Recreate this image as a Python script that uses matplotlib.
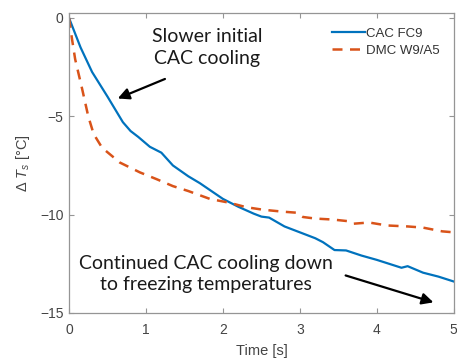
import matplotlib
matplotlib.use('Agg')
import matplotlib.pyplot as plt

# CAC FC9 (solid blue)
t_cac = [0, 0.15, 0.3, 0.5, 0.7, 0.8, 0.9, 1.05, 1.2, 1.35, 1.55, 1.7, 1.85,
         2.0, 2.2, 2.4, 2.5, 2.6, 2.8, 3.0, 3.2, 3.3, 3.45, 3.6, 3.8, 4.0,
         4.2, 4.32, 4.4, 4.6, 4.8, 5.0]
dT_cac = [0, -1.5, -2.75, -4.0, -5.3, -5.75, -6.05, -6.55, -6.85, -7.5, -8.05,
          -8.4, -8.8, -9.2, -9.6, -9.95, -10.1, -10.15, -10.6, -10.9, -11.2,
          -11.4, -11.8, -11.82, -12.08, -12.3, -12.55, -12.7, -12.62, -12.95,
          -13.15, -13.4]

# DMC W9/A5 (dashed orange)
t_dmc = [0, 0.04, 0.08, 0.17, 0.25, 0.32, 0.43, 0.66, 0.92, 1.14, 1.35, 1.55,
         1.83, 2.09, 2.3, 2.52, 2.78, 2.95, 3.04, 3.2, 3.43, 3.62, 3.7, 3.9,
         4.13, 4.4, 4.6, 4.85, 5.0]
dT_dmc = [0, -1.1, -2.1, -3.6, -5.0, -5.9, -6.6, -7.35, -7.85, -8.2, -8.55,
          -8.8, -9.2, -9.4, -9.62, -9.75, -9.85, -9.9, -10.12, -10.2, -10.25,
          -10.33, -10.46, -10.4, -10.55, -10.6, -10.66, -10.85, -10.9]

series_labels = ['CAC FC9', 'DMC W9/A5']
x_ticks = [0, 1, 2, 3, 4, 5]
y_ticks = [-15, -10, -5, 0]

plt.rcParams['font.family'] = ['Liberation Sans', 'DejaVu Sans']
plt.rcParams['mathtext.fontset'] = 'custom'
plt.rcParams['mathtext.rm'] = 'Liberation Sans'
plt.rcParams['mathtext.it'] = 'Liberation Sans:italic'

fig = plt.figure(figsize=(4.57, 3.58), dpi=100)
ax = fig.add_axes([0.151, 0.1257, 0.842, 0.838])

ax.plot(t_cac, dT_cac, color='#0072BD', lw=1.6, label=series_labels[0])
ax.plot(t_dmc, dT_dmc, color='#D95319', lw=1.8, ls=(0, (4, 3)),
        label=series_labels[1])

ax.set_xlim(0, 5)
ax.set_ylim(-15, 0.25)
ax.set_xticks(x_ticks)
ax.set_yticks(y_ticks)

gray = '#959595'
for s in ax.spines.values():
    s.set_color(gray)
    s.set_linewidth(0.9)
ax.tick_params(direction='in', top=True, right=True, length=3.5,
               color=gray, labelcolor='#444444', labelsize=10)
ax.tick_params(axis='x', pad=7)
ax.tick_params(axis='y', pad=4)

ax.set_xlabel('Time [s]', fontsize=10.5, color='#444444', labelpad=5)
ax.set_ylabel(r'$\Delta\ T_s$ [°C]', fontsize=10.5, color='#444444', labelpad=6)

leg = ax.legend(loc='upper right', bbox_to_anchor=(0.995, 0.99), frameon=False,
                fontsize=9.5, handlelength=2.5, handletextpad=0.1,
                labelspacing=0.35, labelcolor='#333333')

txt_font = ['Lato', 'DejaVu Sans']
ax.text(1.79, -1.5, 'Slower initial\nCAC cooling', ha='center', va='center',
        fontsize=14, family=txt_font, linespacing=1.3, color='#1a1a1a')
ax.annotate('', xy=(0.6, -4.15), xytext=(1.28, -3.05),
            arrowprops=dict(arrowstyle='-|>', color='black', lw=1.6,
                            mutation_scale=17))

ax.text(1.78, -13.0, 'Continued CAC cooling down\nto freezing temperatures',
        ha='center', va='center', fontsize=14, family=txt_font,
        linespacing=1.3, color='#1a1a1a')
ax.annotate('', xy=(4.77, -14.5), xytext=(3.56, -13.05),
            arrowprops=dict(arrowstyle='-|>', color='black', lw=1.6,
                            mutation_scale=17))

fig.savefig('out.png', dpi=100)
